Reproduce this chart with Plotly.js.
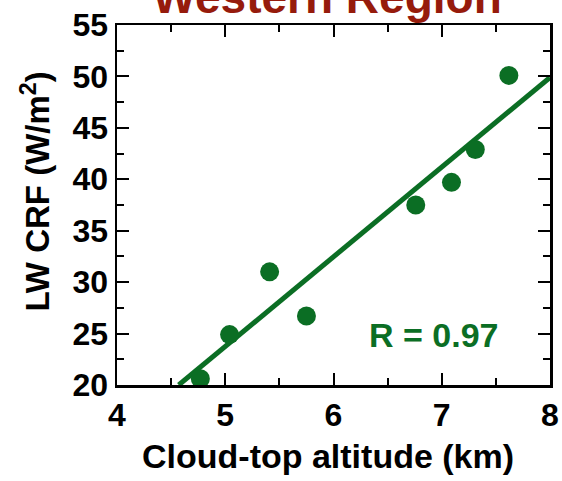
<!DOCTYPE html>
<html>
<head>
<meta charset="utf-8">
<script src="https://cdn.plot.ly/plotly-3.0.1.min.js"></script>
<style>html,body{margin:0;padding:0;background:#fff;}#chart{width:562px;height:481px;}</style>
</head>
<body>
<div id="chart"></div>
<script>
// Data
const altitude = [4.77, 5.04, 5.41, 5.75, 6.76, 7.09, 7.31, 7.62];   // Cloud-top altitude (km)
const lwcrf    = [20.6, 24.9, 31.0, 26.7, 37.5, 39.7, 42.9, 50.1];   // LW CRF (W/m2)
const fitX = [4.57, 8.0];
const fitY = [20.0, 49.9];
const xTicks = [4, 5, 6, 7, 8];
const yTicks = [20, 25, 30, 35, 40, 45, 50, 55];
const rLabel = "R = 0.97";
const xTitle = "Cloud-top altitude (km)";
const yTitle = "LW CRF (W/m<sup>2</sup>)";

const GREEN = "#0b6e24";
const FONT = "Liberation Sans, Arial, Helvetica, sans-serif";

const traces = [
  {x: fitX, y: fitY, mode: "lines", type: "scatter",
   line: {color: GREEN, width: 5}, hoverinfo: "skip", showlegend: false},
  {x: altitude, y: lwcrf, mode: "markers", type: "scatter",
   marker: {color: GREEN, size: 19}, showlegend: false}
];

const axisCommon = {
  showgrid: false, zeroline: false, showline: true, linecolor: "#000", linewidth: 2.5,
  mirror: "ticks", ticks: "inside", ticklen: 12, tickwidth: 2, tickcolor: "#000",
  tickfont: {family: FONT, size: 32, color: "#000", weight: "bold"},
};

// plot area: x 117..550, y 25..385 px
const layout = {
  width: 562, height: 481,
  margin: {l: 117, r: 12, t: 25, b: 96},
  paper_bgcolor: "#fff", plot_bgcolor: "#fff",
  font: {family: FONT},
  title: {text: "Western Region", font: {family: FONT, size: 46, color: "#961b0c", weight: "bold"},
          xref: "container", yref: "container", x: 0.582, xanchor: "center", y: 1 - 12.6/481, yanchor: "bottom"},
  xaxis: Object.assign({}, axisCommon, {
    range: [4, 8], tickvals: xTicks, ticktext: xTicks.map(String), ticklabelstandoff: 0,
    minor: {dtick: 0.5, ticklen: 7, tickwidth: 2, tickcolor: "#000", ticks: "inside"}
  }),
  yaxis: Object.assign({}, axisCommon, {
    range: [20, 55], tickvals: yTicks, ticktext: yTicks.map(String),
    minor: {dtick: 2.5, ticklen: 7, tickwidth: 2, tickcolor: "#000", ticks: "inside"}
  }),
  annotations: [
    {x: 6.92, y: 24.9, xref: "x", yref: "y", text: rLabel, showarrow: false,
     font: {family: FONT, size: 34, color: GREEN, weight: "bold"}, xanchor: "center", yanchor: "middle"},
    {x: (327.5 - 117) / 433, y: (385 - 456) / 360, xref: "paper", yref: "paper", text: xTitle, showarrow: false,
     font: {family: FONT, size: 34, color: "#000", weight: "bold"}, xanchor: "center", yanchor: "middle"},
    {x: (35 - 117) / 433, y: (385 - 191.5) / 360, xref: "paper", yref: "paper", text: yTitle, showarrow: false,
     textangle: -90, font: {family: FONT, size: 33, color: "#000", weight: "bold"}, xanchor: "center", yanchor: "middle"}
  ]
};

Plotly.newPlot("chart", traces, layout, {staticPlot: true, displayModeBar: false});
</script>
</body>
</html>
